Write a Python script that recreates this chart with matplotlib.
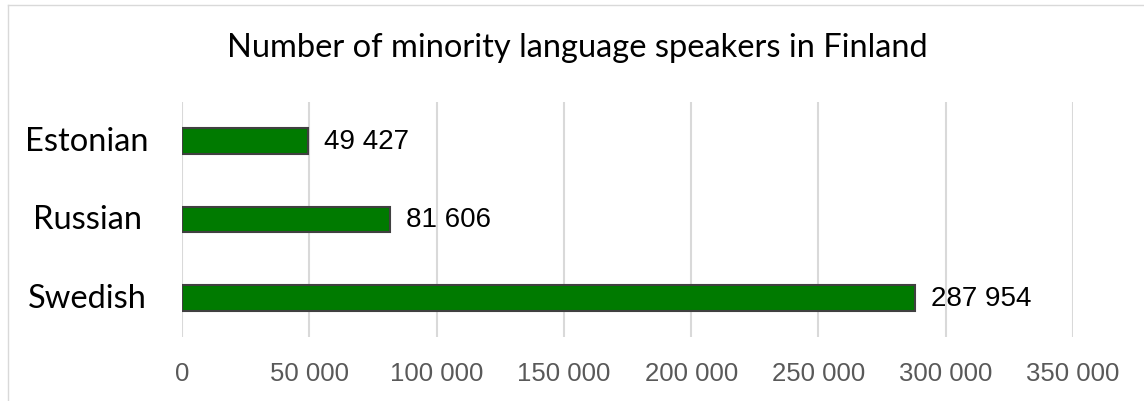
import matplotlib
matplotlib.use("Agg")
import matplotlib.pyplot as plt
import matplotlib.transforms as mtransforms
from matplotlib.lines import Line2D
from matplotlib.ticker import FuncFormatter

# Speakers by language (bottom to top)
languages = ["Swedish", "Russian", "Estonian"]
speakers = [287954, 81606, 49427]
x_ticks = [0, 50000, 100000, 150000, 200000, 250000, 300000, 350000]


def spaced(v, pos=None):
    return f"{int(v):,}".replace(",", " ")


fig = plt.figure(figsize=(11.44, 4.02), dpi=100)
ax = fig.add_axes([182 / 1144, 1 - 338 / 402, 891 / 1144, 235 / 402])

ax.barh(range(len(languages)), speakers, height=0.33, color="#007a00",
        edgecolor="#404040", linewidth=1.5, zorder=3)

ax.set_xlim(0, 350000)
ax.set_ylim(-0.5, len(languages) - 0.5)
ax.set_xticks(x_ticks)
ax.xaxis.set_major_formatter(FuncFormatter(spaced))
ax.grid(axis="x", color="#d9d9d9", linewidth=1.5, zorder=0)
ax.set_axisbelow(True)
ax.tick_params(axis="x", length=0, pad=17, labelsize=18.5, labelcolor="#595959")
for lbl in ax.get_xticklabels():
    lbl.set_family("Liberation Sans")
ax.set_yticks([])
for s in ax.spines.values():
    s.set_visible(False)

# category names, centred in the left margin
trans = mtransforms.blended_transform_factory(fig.transFigure, ax.transData)
for i, name in enumerate(languages):
    fig.text(87 / 1144, i, name, fontsize=23.5, family="Lato", ha="center",
             va="center", transform=trans)

# value labels to the right of each bar
for i, v in enumerate(speakers):
    ax.annotate(spaced(v), (v, i), xytext=(16, 0), textcoords="offset pixels",
                va="center", ha="left", fontsize=20, family="Liberation Sans",
                zorder=4)

fig.text(0.505, 1 - 48 / 402, "Number of minority language speakers in Finland",
         fontsize=23.5, family="Lato", ha="center", va="center")

# thin frame along the top and left
fig.add_artist(Line2D([8 / 1144, 1], [1 - 6 / 402, 1 - 6 / 402],
                      transform=fig.transFigure, color="#d9d9d9", linewidth=1))
fig.add_artist(Line2D([8 / 1144, 8 / 1144], [0, 1 - 6 / 402],
                      transform=fig.transFigure, color="#d9d9d9", linewidth=1))

fig.savefig("out.png", dpi=100)
